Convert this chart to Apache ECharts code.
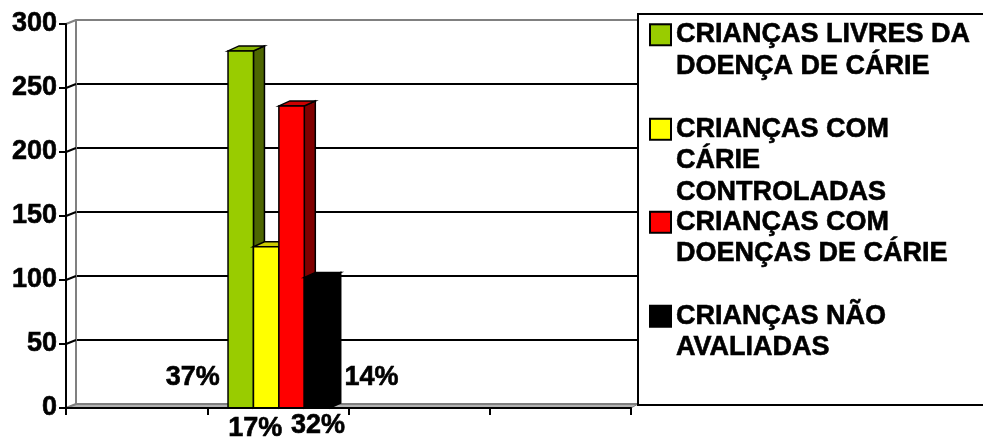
<!DOCTYPE html>
<html>
<head>
<meta charset="utf-8">
<script src="https://cdn.jsdelivr.net/npm/echarts@6/dist/echarts.min.js"></script>
<style>
html, body { margin: 0; padding: 0; background: #fff; }
#chart { width: 983px; height: 437px; }
</style>
</head>
<body>
<div id="chart"></div>
<script>
// dados do gráfico
var categories = ['', '', '', ''];
var seriesNames = [
    'CRIANÇAS LIVRES DA DOENÇA DE CÁRIE',
    'CRIANÇAS COM CÁRIE CONTROLADAS',
    'CRIANÇAS COM DOENÇAS DE CÁRIE',
    'CRIANÇAS NÃO AVALIADAS'
];
var seriesValues = [279, 126, 236, 102];
var percentLabels = ['37%', '17%', '32%', '14%'];
var yTicks = [0, 50, 100, 150, 200, 250, 300];
var barCategory = 1;

// quebra de linha da legenda
var legendLines = [
    ['CRIANÇAS LIVRES DA', 'DOENÇA DE CÁRIE'],
    ['CRIANÇAS COM', 'CÁRIE', 'CONTROLADAS'],
    ['CRIANÇAS COM', 'DOENÇAS DE CÁRIE'],
    ['CRIANÇAS NÃO', 'AVALIADAS']
];

// estilo
var FONT = '"Liberation Sans", Arial, sans-serif';
var frontColors = ['#99cc00', '#ffff00', '#ff0000', '#000000'];
var topColors = ['#86b300', '#cccc00', '#cc0000', '#000000'];
var sideColors = ['#4d6600', '#808000', '#800000', '#000000'];
// rótulo: [align, dx do centro da barra, dy da base]
var labelPlaces = [['right', -21, -30], ['center', -11, 21], ['center', 26.5, 18], ['left', 27.5, -30]];
var legendTops = [21, 115.5, 208.5, 302.5];

var chart = echarts.init(document.getElementById('chart'));

function renderBar(params, api) {
    var i = params.seriesIndex;
    var base = api.coord([api.value(0), 0]);
    var top = api.coord([api.value(0), api.value(1)]);
    var band = api.size([1, 0])[0];
    var w = band * 0.18;
    var x = base[0] - 2 * w + i * w + 1;
    var y0 = base[1], y1 = top[1];
    var dx = 11, dy = -5;
    var place = labelPlaces[i];
    return {
        type: 'group',
        children: [{
            type: 'polygon',
            shape: { points: [[x + w, y1], [x + w + dx, y1 + dy], [x + w + dx, y0 + dy], [x + w, y0]] },
            style: { fill: sideColors[i], stroke: '#000', lineWidth: 1.5 }
        }, {
            type: 'polygon',
            shape: { points: [[x, y1], [x + w, y1], [x + w + dx, y1 + dy], [x + dx, y1 + dy]] },
            style: { fill: topColors[i], stroke: '#000', lineWidth: 1.5 }
        }, {
            type: 'rect',
            shape: { x: x, y: y1, width: w, height: y0 - y1 },
            style: { fill: frontColors[i], stroke: '#000', lineWidth: 1.5 }
        }, {
            type: 'text',
            x: x + w / 2 + place[1],
            y: y0 + place[2],
            style: {
                text: percentLabels[i],
                fill: '#000',
                stroke: '#000',
                lineWidth: 0.6,
                font: 'bold 27px ' + FONT,
                align: place[0],
                verticalAlign: 'middle'
            }
        }]
    };
}

// linhas da parede lateral (do eixo até a parede do fundo)
function renderWallTick(params, api) {
    var p = api.coord([0, api.value(1)]);
    var x = params.coordSys.x;
    var v = api.value(1);
    var edge = v === yTicks[0] || v === yTicks[yTicks.length - 1];
    return {
        type: 'line',
        shape: { x1: x, y1: p[1], x2: x + 10, y2: p[1] - 4 },
        style: { stroke: edge ? '#808080' : '#000', lineWidth: 2 }
    };
}

var series = seriesNames.map(function (name, i) {
    return {
        name: name,
        type: 'custom',
        xAxisIndex: 0,
        yAxisIndex: 0,
        itemStyle: { color: frontColors[i] },
        renderItem: renderBar,
        encode: { x: 0, y: 1 },
        data: [[barCategory, seriesValues[i]]]
    };
});
series.push({
    type: 'custom',
    xAxisIndex: 0,
    yAxisIndex: 0,
    silent: true,
    renderItem: renderWallTick,
    encode: { x: 0, y: 1 },
    data: yTicks.map(function (v) { return [0, v]; })
});

var legends = seriesNames.map(function (name, i) {
    var rich = {
        t: {
            fontSize: 27, fontWeight: 'bold', fontFamily: FONT, color: '#000', lineHeight: 31.5,
            textBorderColor: '#000', textBorderWidth: 0.6
        },
        g: { width: 6 },
        s: { width: 25 }
    };
    rich['m' + i] = { width: 19, height: 19, backgroundColor: frontColors[i], borderColor: '#000', borderWidth: 2 };
    return {
        orient: 'vertical',
        left: 646,
        top: legendTops[i],
        padding: 0,
        itemWidth: 0,
        itemHeight: 0,
        z: 6,
        data: [name],
        formatter: function () {
            return legendLines[i].map(function (line, k) {
                return (k === 0 ? '{m' + i + '|}{g|}' : '{s|}') + '{t|' + line + '}';
            }).join('\n');
        },
        textStyle: { rich: rich }
    };
});

chart.setOption({
    animation: false,
    backgroundColor: '#fff',
    grid: [
        { left: 66, right: 352, top: 24, bottom: 29, containLabel: false, outerBoundsMode: 'none' },
        { left: 76, right: 345, top: 20, bottom: 33, containLabel: false, outerBoundsMode: 'none' }
    ],
    xAxis: [{
        type: 'category',
        gridIndex: 0,
        data: categories,
        boundaryGap: true,
        z: 5,
        axisLine: { show: true, lineStyle: { color: '#000', width: 2 } },
        axisTick: { show: true, length: 7, interval: 0, lineStyle: { color: '#000', width: 2 } },
        axisLabel: { show: false },
        splitLine: { show: false }
    }, {
        type: 'category',
        gridIndex: 1,
        data: categories,
        show: false
    }],
    yAxis: [{
        type: 'value',
        gridIndex: 0,
        min: 0,
        max: 300,
        interval: 50,
        z: 5,
        axisLine: { show: true, lineStyle: { color: '#000', width: 2 } },
        axisTick: { show: true, length: 7, lineStyle: { color: '#000', width: 2 } },
        axisLabel: {
            fontSize: 27, fontWeight: 'bold', fontFamily: FONT, color: '#000', margin: 9,
            textBorderColor: '#000', textBorderWidth: 0.6
        },
        splitLine: { show: false }
    }, {
        type: 'value',
        gridIndex: 1,
        min: 0,
        max: 300,
        interval: 50,
        axisLine: { show: true, lineStyle: { color: '#808080', width: 2 } },
        axisTick: { show: false },
        axisLabel: { show: false },
        splitLine: {
            show: true,
            lineStyle: { color: ['#808080', '#000', '#000', '#000', '#000', '#000', '#808080'], width: 2 }
        }
    }],
    legend: legends,
    graphic: [{
        type: 'polygon',
        z: -1,
        shape: { points: [[66, 408], [76, 404], [638, 404], [631, 408]] },
        style: { fill: '#b3b3b3', stroke: '#808080', lineWidth: 1 }
    }, {
        type: 'rect',
        z: 3,
        shape: { x: 638, y: 14, width: 360, height: 391 },
        style: { fill: '#fff', stroke: '#000', lineWidth: 2 }
    }],
    series: series
});
</script>
</body>
</html>
